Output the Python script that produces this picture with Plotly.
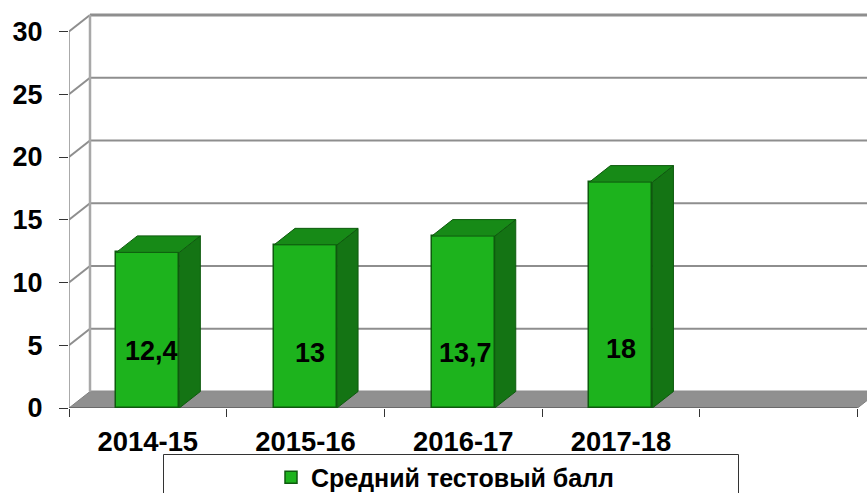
import plotly.graph_objects as go

categories = ["2014-15", "2015-16", "2016-17", "2017-18"]
values = [12.4, 13, 13.7, 18]
value_labels = ["12,4", "13", "13,7", "18"]
y_ticks = [0, 5, 10, 15, 20, 25, 30]
series_name = "Средний тестовый балл"

W, H = 867, 493
L, R, T, B = 69, 0, 13, 85
SLOT_PX = 157.7
UNIT_PX = 12.55
DX = 21 / SLOT_PX
DY = 16.5 / UNIT_PX
BAR_W = 63 / SLOT_PX
X0 = -0.5
X_END = X0 + 5
X_RANGE = [X0, X0 + (W - L - R) / SLOT_PX]
Y_RANGE = [0, (H - T - B) / UNIT_PX]
LABEL_Y = 4.5
LABEL_XSHIFT = [3.5, 4, 2, 0]
LABEL_YSHIFT = [1, -1, -1, 3]

FONT = "Liberation Sans"
GRID = "#8e8e8e"
FRONT, SIDE, TOP, EDGE = "#1db31d", "#147414", "#178a17", "#0e5a0e"

fig = go.Figure()

fig.add_bar(x=list(range(len(categories))), y=values, width=BAR_W,
            marker=dict(color=FRONT, line=dict(color=EDGE, width=1.5)),
            name=series_name, showlegend=True, hoverinfo="skip")

for i, v in enumerate(values):
    xl, xr = i - BAR_W / 2, i + BAR_W / 2
    fig.add_scatter(x=[xr, xr + DX, xr + DX, xr, xr], y=[0, DY, v + DY, v, 0],
                    mode="lines", fill="toself", fillcolor=SIDE,
                    line=dict(color=EDGE, width=1), showlegend=False, hoverinfo="skip")
    fig.add_scatter(x=[xl, xl + DX, xr + DX, xr, xl], y=[v, v + DY, v + DY, v, v],
                    mode="lines", fill="toself", fillcolor=TOP,
                    line=dict(color=EDGE, width=1), showlegend=False, hoverinfo="skip")

shapes = []
def line(x0, y0, x1, y1, w=2, c=GRID):
    shapes.append(dict(type="line", xref="x", yref="y", x0=x0, y0=y0, x1=x1, y1=y1,
                       layer="below", line=dict(color=c, width=w)))

# floor
shapes.append(dict(type="path", xref="x", yref="y", layer="below", fillcolor="#909090",
                   path=f"M {X0} 0 L {X0 + DX} {DY} L {X_RANGE[1] + DX} {DY} L {X_END + DX} {DY} L {X_END} 0 Z",
                   line=dict(color="#808080", width=1)))
# walls and gridlines
for t in y_ticks[1:]:
    w = 3 if t == y_ticks[-1] else 2
    line(X0 + DX, t + DY, X_RANGE[1], t + DY, w)
    line(X0, t, X0 + DX, t + DY, 2)
line(X0 + DX, DY, X_RANGE[1], DY, 2)
line(X0, y_ticks[0], X0, y_ticks[-1], 1.5)
line(X0 + DX, DY, X0 + DX, y_ticks[-1] + DY, 2.5, "#a8a8a8")
line(X0, 0, X_END, 0, 2, "#6a6a6a")

fig.update_layout(
    width=W, height=H, autosize=False,
    margin=dict(l=L, r=R, t=T, b=B, pad=0, autoexpand=False),
    paper_bgcolor="white", plot_bgcolor="white",
    font=dict(family=FONT, color="black"),
    shapes=shapes + [dict(type="rect", xref="paper", yref="paper",
                          x0=(163.5 - L) / (W - L), x1=(738.5 - L) / (W - L),
                          y0=-(505 - (H - B)) / (H - T - B), y1=-(454.5 - (H - B)) / (H - T - B),
                          line=dict(color="#333333", width=1), fillcolor="rgba(0,0,0,0)")],
    annotations=[dict(x=i, y=LABEL_Y, xref="x", yref="y", text=s, showarrow=False,
                      font=dict(family=FONT, size=27, weight=700, color="black"),
                      xshift=LABEL_XSHIFT[i], yshift=LABEL_YSHIFT[i])
                 for i, s in enumerate(value_labels)],
    showlegend=True,
    legend=dict(x=(271 - L) / (W - L), xanchor="left", y=-(477.5 - (H - B)) / (H - T - B), yanchor="middle",
                bgcolor="rgba(0,0,0,0)", font=dict(family=FONT, size=25, weight=700, color="black"),
                itemclick=False, itemdoubleclick=False),
    bargap=0,
    hovermode=False,
)
fig.update_xaxes(
    range=X_RANGE, tickmode="array", tickvals=list(range(len(categories))), ticktext=categories,
    ticks="", showgrid=False, zeroline=False, showline=False, fixedrange=True, automargin=False,
    tickfont=dict(family=FONT, size=27.4, weight=700, color="black"), ticklabelstandoff=15,
    minor=dict(tickmode="array", tickvals=[X0 + k for k in range(6)], ticks="outside",
               ticklen=8, tickwidth=1, tickcolor="#333333", showgrid=False),
)
fig.update_yaxes(
    range=Y_RANGE, tickmode="array", tickvals=y_ticks, ticks="outside", ticklen=9, tickwidth=1,
    tickcolor="#333333", showgrid=False, zeroline=False, showline=False, fixedrange=True, automargin=False,
    tickfont=dict(family=FONT, size=27, weight=700, color="black"), ticklabelstandoff=11,
)
fig.write_html("out.html", config=dict(displayModeBar=False),
               post_script="document.body.style.margin='0';")
